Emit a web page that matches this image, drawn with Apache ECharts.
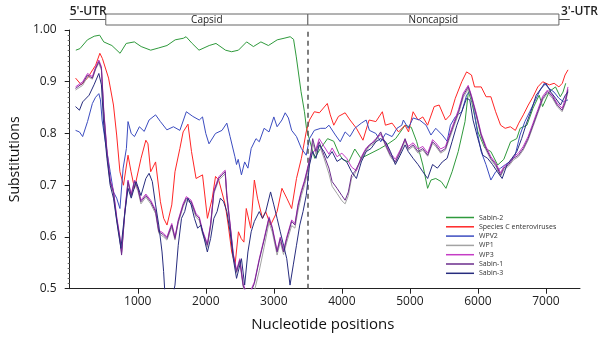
<!DOCTYPE html>
<html><head><meta charset="utf-8">
<script src="https://cdn.jsdelivr.net/npm/echarts@6/dist/echarts.min.js"></script>
<style>html,body{margin:0;padding:0;background:#fff}#c{width:600px;height:341px}</style>
</head><body><div id="c"></div>
<script>
// ---------- data (nucleotide position, substitutions) ----------
const seriesNames = ['Sabin-2','Species C enteroviruses','WPV2','WP1','WP3','Sabin-1','Sabin-3'];
const seriesColors = ['#2f9a3c','#ff2626','#3b4cc0','#a3a3a3','#c53cc5','#6b2c8c','#272c7e'];

const sabin2 = [[90,0.961],[150,0.964],[260,0.981],[360,0.988],[440,0.990],[500,0.977],[620,0.970],[740,0.955],[830,0.974],[950,0.977],[1050,0.968],[1190,0.961],[1300,0.965],[1430,0.970],[1550,0.981],[1670,0.984],[1710,0.987],[1800,0.974],[1900,0.961],[2050,0.970],[2150,0.974],[2290,0.961],[2380,0.958],[2480,0.961],[2600,0.977],[2700,0.968],[2810,0.977],[2920,0.970],[3050,0.981],[3150,0.984],[3240,0.987],[3290,0.982],[3330,0.948],[3400,0.881],[3450,0.842],[3480,0.810],[3520,0.790],[3600,0.752],[3680,0.770],[3790,0.790],[3880,0.785],[3960,0.760],[4020,0.749],[4100,0.745],[4190,0.770],[4280,0.752],[4400,0.760],[4550,0.770],[4680,0.780],[4790,0.790],[4930,0.816],[5020,0.812],[5100,0.784],[5190,0.739],[5260,0.694],[5310,0.710],[5380,0.713],[5460,0.707],[5530,0.694],[5620,0.726],[5710,0.765],[5810,0.823],[5860,0.881],[5910,0.860],[6000,0.803],[6100,0.772],[6190,0.765],[6290,0.739],[6380,0.750],[6480,0.784],[6570,0.790],[6620,0.810],[6720,0.816],[6810,0.849],[6900,0.874],[6950,0.852],[7050,0.881],[7140,0.890],[7210,0.871],[7250,0.880],[7290,0.897]];

const speciesC = [[86,0.907],[170,0.894],[260,0.907],[381,0.932],[443,0.955],[480,0.945],[571,0.907],[643,0.855],[690,0.797],[738,0.726],[790,0.700],[857,0.758],[900,0.727],[952,0.694],[1048,0.752],[1119,0.787],[1150,0.780],[1190,0.726],[1262,0.745],[1333,0.668],[1381,0.636],[1430,0.623],[1500,0.662],[1547,0.726],[1619,0.771],[1667,0.803],[1738,0.818],[1790,0.765],[1857,0.713],[1952,0.720],[2024,0.636],[2095,0.675],[2143,0.717],[2190,0.710],[2286,0.662],[2330,0.623],[2381,0.571],[2430,0.546],[2480,0.610],[2520,0.597],[2560,0.590],[2595,0.655],[2660,0.617],[2714,0.710],[2760,0.675],[2833,0.636],[2880,0.649],[2952,0.623],[3048,0.649],[3119,0.694],[3190,0.675],[3262,0.655],[3333,0.713],[3405,0.752],[3476,0.803],[3524,0.826],[3595,0.842],[3670,0.840],[3786,0.858],[3830,0.836],[3881,0.816],[3950,0.833],[4048,0.840],[4120,0.826],[4214,0.810],[4310,0.787],[4400,0.826],[4500,0.823],[4595,0.842],[4640,0.816],[4738,0.820],[4833,0.803],[4929,0.816],[4980,0.803],[5047,0.842],[5120,0.826],[5190,0.832],[5260,0.816],[5357,0.852],[5430,0.855],[5524,0.826],[5595,0.836],[5667,0.868],[5762,0.900],[5833,0.919],[5905,0.913],[5950,0.890],[6048,0.890],[6120,0.871],[6190,0.871],[6260,0.842],[6333,0.816],[6400,0.810],[6476,0.813],[6550,0.806],[6600,0.820],[6667,0.836],[6740,0.855],[6810,0.871],[6880,0.890],[6952,0.900],[7050,0.894],[7120,0.897],[7190,0.890],[7240,0.897],[7280,0.913],[7324,0.923]];

const wpv2 = [[86,0.806],[143,0.803],[190,0.794],[262,0.823],[333,0.858],[380,0.870],[428,0.877],[452,0.865],[476,0.826],[524,0.784],[595,0.726],[643,0.687],[690,0.675],[738,0.655],[785,0.733],[833,0.771],[857,0.823],[904,0.800],[952,0.794],[1024,0.813],[1095,0.804],[1166,0.826],[1262,0.836],[1333,0.823],[1428,0.807],[1524,0.813],[1619,0.806],[1714,0.842],[1809,0.833],[1904,0.826],[1952,0.832],[2000,0.800],[2047,0.780],[2142,0.800],[2238,0.806],[2309,0.820],[2357,0.794],[2428,0.755],[2452,0.740],[2476,0.750],[2524,0.720],[2571,0.745],[2619,0.733],[2667,0.771],[2738,0.790],[2786,0.784],[2857,0.810],[2929,0.803],[3000,0.832],[3048,0.813],[3119,0.826],[3167,0.840],[3214,0.830],[3262,0.806],[3333,0.794],[3405,0.771],[3476,0.758],[3524,0.790],[3595,0.806],[3690,0.810],[3762,0.810],[3810,0.816],[3905,0.797],[3976,0.784],[4048,0.803],[4119,0.794],[4190,0.810],[4286,0.820],[4357,0.826],[4405,0.806],[4500,0.800],[4571,0.784],[4643,0.800],[4738,0.794],[4810,0.810],[4881,0.816],[4904,0.826],[4976,0.810],[5047,0.830],[5143,0.826],[5238,0.816],[5309,0.797],[5380,0.810],[5476,0.797],[5547,0.785],[5595,0.816],[5666,0.832],[5762,0.842],[5833,0.874],[5880,0.881],[5928,0.855],[5999,0.797],[6047,0.765],[6118,0.740],[6190,0.710],[6261,0.726],[6333,0.733],[6404,0.740],[6475,0.746],[6547,0.758],[6618,0.797],[6690,0.823],[6761,0.842],[6832,0.861],[6904,0.881],[6975,0.897],[7047,0.887],[7118,0.880],[7190,0.868],[7261,0.861],[7323,0.865]];

const wp1 = [[85,0.884],[190,0.893],[262,0.910],[333,0.905],[381,0.924],[428,0.936],[466,0.922],[500,0.838],[547,0.760],[595,0.703],[643,0.684],[690,0.632],[738,0.592],[762,0.568],[809,0.642],[857,0.703],[904,0.677],[952,0.703],[1000,0.690],[1047,0.664],[1119,0.677],[1190,0.664],[1262,0.645],[1309,0.607],[1380,0.600],[1428,0.594],[1500,0.619],[1547,0.594],[1595,0.627],[1666,0.658],[1714,0.672],[1785,0.664],[1857,0.638],[1904,0.632],[1952,0.606],[2023,0.580],[2071,0.619],[2119,0.684],[2190,0.710],[2238,0.716],[2285,0.722],[2309,0.676],[2357,0.620],[2404,0.562],[2452,0.530],[2500,0.552],[2548,0.504],[2619,0.475],[2714,0.495],[2786,0.535],[2857,0.580],[2929,0.628],[2976,0.610],[3048,0.565],[3095,0.590],[3143,0.566],[3190,0.590],[3262,0.622],[3310,0.617],[3357,0.652],[3405,0.680],[3452,0.700],[3500,0.726],[3548,0.758],[3571,0.782],[3619,0.760],[3667,0.778],[3738,0.752],[3810,0.722],[3857,0.698],[3929,0.684],[4000,0.670],[4048,0.664],[4095,0.680],[4143,0.714],[4190,0.722],[4262,0.742],[4334,0.762],[4405,0.775],[4476,0.781],[4571,0.800],[4643,0.775],[4714,0.755],[4786,0.742],[4857,0.762],[4929,0.786],[4976,0.768],[5047,0.775],[5119,0.762],[5190,0.768],[5261,0.756],[5333,0.781],[5380,0.775],[5452,0.762],[5523,0.768],[5571,0.786],[5642,0.812],[5714,0.838],[5785,0.870],[5857,0.886],[5904,0.868],[5976,0.832],[6047,0.794],[6118,0.768],[6190,0.749],[6261,0.737],[6333,0.717],[6380,0.730],[6452,0.737],[6523,0.749],[6595,0.755],[6666,0.768],[6737,0.787],[6809,0.813],[6880,0.839],[6952,0.865],[7023,0.878],[7095,0.868],[7166,0.852],[7237,0.842],[7285,0.858],[7323,0.882]];

const wp3 = [[85,0.890],[190,0.900],[262,0.916],[333,0.910],[381,0.929],[428,0.942],[466,0.929],[500,0.846],[547,0.768],[595,0.710],[643,0.690],[690,0.640],[738,0.600],[762,0.570],[809,0.649],[857,0.710],[904,0.683],[952,0.710],[1000,0.697],[1047,0.671],[1119,0.683],[1190,0.671],[1262,0.652],[1309,0.613],[1380,0.607],[1428,0.600],[1500,0.626],[1547,0.600],[1595,0.633],[1666,0.664],[1714,0.678],[1785,0.671],[1857,0.645],[1904,0.639],[1952,0.613],[2023,0.587],[2071,0.626],[2119,0.690],[2190,0.716],[2238,0.723],[2285,0.729],[2309,0.683],[2357,0.626],[2404,0.568],[2452,0.536],[2500,0.558],[2548,0.510],[2619,0.484],[2714,0.513],[2786,0.558],[2857,0.597],[2929,0.639],[2976,0.620],[3048,0.574],[3095,0.600],[3143,0.574],[3190,0.600],[3262,0.633],[3310,0.626],[3357,0.664],[3405,0.690],[3452,0.710],[3500,0.736],[3548,0.760],[3619,0.770],[3667,0.790],[3738,0.775],[3810,0.760],[3857,0.772],[3929,0.755],[4000,0.762],[4071,0.752],[4143,0.735],[4214,0.728],[4286,0.755],[4357,0.772],[4429,0.780],[4500,0.790],[4571,0.798],[4643,0.782],[4714,0.762],[4786,0.750],[4857,0.768],[4929,0.788],[4976,0.775],[5047,0.782],[5119,0.770],[5190,0.775],[5261,0.762],[5333,0.788],[5380,0.782],[5452,0.770],[5523,0.775],[5571,0.794],[5642,0.820],[5714,0.846],[5785,0.878],[5857,0.893],[5904,0.874],[5976,0.839],[6047,0.800],[6118,0.775],[6190,0.755],[6261,0.743],[6333,0.724],[6380,0.736],[6452,0.743],[6523,0.755],[6595,0.762],[6666,0.775],[6737,0.794],[6809,0.820],[6880,0.846],[6952,0.872],[7023,0.884],[7095,0.874],[7166,0.858],[7237,0.849],[7285,0.866],[7323,0.890]];

const sabin1 = [[85,0.887],[190,0.897],[262,0.913],[333,0.907],[381,0.926],[428,0.939],[466,0.926],[500,0.842],[547,0.765],[595,0.707],[643,0.687],[690,0.636],[738,0.597],[762,0.565],[809,0.646],[857,0.707],[904,0.680],[952,0.707],[1000,0.694],[1047,0.668],[1119,0.680],[1190,0.668],[1262,0.649],[1309,0.610],[1380,0.604],[1428,0.597],[1500,0.623],[1547,0.597],[1595,0.630],[1666,0.661],[1714,0.675],[1785,0.668],[1857,0.642],[1904,0.636],[1952,0.610],[2023,0.584],[2071,0.623],[2119,0.687],[2190,0.713],[2238,0.720],[2285,0.726],[2309,0.680],[2357,0.623],[2404,0.565],[2452,0.533],[2500,0.555],[2548,0.507],[2619,0.480],[2714,0.510],[2786,0.555],[2857,0.594],[2929,0.636],[2976,0.617],[3048,0.571],[3095,0.597],[3143,0.571],[3190,0.597],[3262,0.630],[3310,0.623],[3357,0.661],[3405,0.687],[3452,0.707],[3500,0.733],[3548,0.765],[3571,0.790],[3619,0.765],[3667,0.784],[3738,0.758],[3810,0.733],[3857,0.707],[3929,0.694],[4000,0.680],[4048,0.671],[4095,0.687],[4143,0.720],[4190,0.726],[4262,0.745],[4334,0.765],[4405,0.778],[4476,0.784],[4571,0.803],[4643,0.778],[4714,0.758],[4786,0.745],[4857,0.765],[4929,0.790],[4976,0.771],[5047,0.778],[5119,0.765],[5190,0.771],[5261,0.758],[5333,0.784],[5380,0.778],[5452,0.765],[5523,0.771],[5571,0.790],[5642,0.816],[5714,0.842],[5785,0.874],[5857,0.890],[5904,0.871],[5976,0.836],[6047,0.797],[6118,0.771],[6190,0.752],[6261,0.740],[6333,0.720],[6380,0.733],[6452,0.740],[6523,0.752],[6595,0.758],[6666,0.771],[6737,0.790],[6809,0.816],[6880,0.842],[6952,0.868],[7023,0.881],[7095,0.871],[7166,0.855],[7237,0.845],[7285,0.861],[7323,0.885]];

const sabin3 = [[85,0.852],[143,0.845],[190,0.861],[285,0.874],[357,0.894],[428,0.916],[466,0.894],[500,0.816],[547,0.752],[595,0.700],[643,0.675],[714,0.610],[752,0.578],[809,0.646],[857,0.694],[904,0.675],[976,0.707],[1047,0.680],[1119,0.713],[1166,0.723],[1214,0.707],[1262,0.662],[1309,0.623],[1357,0.571],[1380,0.533],[1404,0.480],[1476,0.460],[1547,0.507],[1595,0.584],[1643,0.636],[1690,0.649],[1738,0.675],[1785,0.662],[1833,0.636],[1880,0.617],[1928,0.623],[1976,0.597],[2023,0.571],[2071,0.597],[2119,0.636],[2166,0.649],[2214,0.675],[2262,0.668],[2309,0.649],[2357,0.610],[2404,0.558],[2452,0.520],[2524,0.558],[2571,0.507],[2619,0.571],[2667,0.610],[2714,0.630],[2786,0.649],[2833,0.636],[2881,0.649],[2952,0.687],[3000,0.662],[3048,0.636],[3095,0.610],[3143,0.584],[3190,0.558],[3238,0.507],[3286,0.546],[3333,0.584],[3381,0.623],[3429,0.649],[3476,0.680],[3524,0.739],[3571,0.765],[3619,0.752],[3667,0.778],[3738,0.765],[3786,0.752],[3857,0.765],[3929,0.746],[4000,0.752],[4071,0.745],[4143,0.726],[4214,0.713],[4286,0.745],[4357,0.765],[4429,0.771],[4500,0.784],[4571,0.790],[4643,0.784],[4714,0.765],[4786,0.740],[4857,0.758],[4929,0.778],[4976,0.765],[5047,0.752],[5119,0.740],[5190,0.726],[5261,0.713],[5333,0.740],[5404,0.733],[5476,0.745],[5547,0.752],[5619,0.784],[5690,0.816],[5762,0.842],[5833,0.868],[5880,0.865],[5928,0.826],[5999,0.790],[6071,0.758],[6142,0.752],[6214,0.740],[6285,0.726],[6356,0.713],[6428,0.740],[6499,0.752],[6571,0.765],[6642,0.790],[6714,0.820],[6785,0.845],[6856,0.874],[6928,0.887],[6999,0.897],[7071,0.880],[7142,0.868],[7214,0.855],[7285,0.874],[7323,0.880]];

const seriesData = [sabin2, speciesC, wpv2, wp1, wp3, sabin1, sabin3];

// genome regions: start, 5'-UTR end, capsid end, noncapsid end, 3'-UTR end
const regionBounds = [0, 530, 3500, 7190, 7350];
const regionLabels = ["5'-UTR", 'Capsid', 'Noncapsid', "3'-UTR"];
const xTickValues = [1000, 2000, 3000, 4000, 5000, 6000, 7000];
const yTickValues = [0.5, 0.6, 0.7, 0.8, 0.9, 1.0];
const yTickLabels = ['0.5', '0.6', '0.7', '0.8', '0.9', '1.00'];

// ---------- chart ----------
const FONT = 'Open Sans';
const chart = echarts.init(document.getElementById('c'), null, {renderer: 'canvas'});

const series = seriesNames.map((name, i) => ({
  name, type: 'line', data: seriesData[i], showSymbol: false, symbol: 'none',
  clip: true, animation: false,
  lineStyle: {width: 1, color: seriesColors[i]}, itemStyle: {color: seriesColors[i]},
  z: 2 + i
}));
series[0].markLine = {
  silent: true, symbol: ['none', 'none'], label: {show: false},
  lineStyle: {color: '#555', type: [5, 4], width: 1.5},
  data: [{xAxis: regionBounds[2]}], animation: false
};

chart.setOption({
  animation: false,
  backgroundColor: '#fff',
  grid: {left: 53, right: 20, top: 30, bottom: 52.3},
  legend: {
    orient: 'vertical', left: 441, top: 208, icon: 'rect',
    itemWidth: 28, itemHeight: 1.5, itemGap: 0.3,
    textStyle: {fontFamily: FONT, fontSize: 7, color: '#333', lineHeight: 9},
    data: seriesNames
  },
  xAxis: {
    type: 'value', min: -60, max: 7500,
    name: 'Nucleotide positions', nameLocation: 'middle', nameGap: 29,
    nameTextStyle: {fontFamily: FONT, fontSize: 15, color: '#111'},
    axisLine: {show: true, onZero: false, lineStyle: {color: '#222', width: 1}},
    axisTick: {show: true, inside: false, length: 5, customValues: xTickValues, lineStyle: {color: '#222'}},
    axisLabel: {customValues: xTickValues, fontFamily: FONT, fontSize: 12, color: '#222', margin: 7,
      formatter: v => String(Math.round(v))},
    splitLine: {show: false}
  },
  yAxis: {
    type: 'value', min: 0.5, max: 1.0, interval: 0.1,
    name: 'Substitutions', nameLocation: 'middle', nameGap: 34,
    nameTextStyle: {fontFamily: FONT, fontSize: 14, color: '#111'},
    axisLine: {show: true, lineStyle: {color: '#222', width: 1}},
    axisTick: {show: true, length: 5, lineStyle: {color: '#222'}},
    minorTick: {show: true, splitNumber: 10, length: 2, lineStyle: {color: '#666'}},
    axisLabel: {
      fontFamily: FONT, fontSize: 12, color: '#222', margin: 9,
      formatter: v => { const k = yTickValues.findIndex(t => Math.abs(t - v) < 1e-9); return k >= 0 ? yTickLabels[k] : ''; }
    },
    splitLine: {show: false}
  },
  series
});

// region bar above the plot
const xp = v => chart.convertToPixel({xAxisIndex: 0}, v);
const b = regionBounds.map(xp);
const boxTop = 14, boxH = 11, midY = boxTop + boxH / 2;
const lineStyleG = {stroke: '#555', lineWidth: 1};
chart.setOption({
  graphic: [
    {type: 'line', shape: {x1: b[0], y1: midY, x2: b[1], y2: midY}, style: lineStyleG},
    {type: 'rect', shape: {x: b[1], y: boxTop, width: b[2] - b[1], height: boxH}, style: {fill: '#fff', stroke: '#666', lineWidth: 1}},
    {type: 'rect', shape: {x: b[2], y: boxTop, width: b[3] - b[2], height: boxH}, style: {fill: '#fff', stroke: '#666', lineWidth: 1}},
    {type: 'line', shape: {x1: b[3], y1: midY, x2: b[4], y2: midY}, style: lineStyleG},
    {type: 'text', x: b[0], y: midY - 1.5, style: {text: regionLabels[0], fontFamily: FONT, fontSize: 12, fontWeight: 600, fill: '#222', align: 'left', verticalAlign: 'bottom'}},
    {type: 'text', x: (b[1] + b[2]) / 2, y: midY + 0.5, style: {text: regionLabels[1], fontFamily: FONT, fontSize: 10, fill: '#222', align: 'center', verticalAlign: 'middle'}},
    {type: 'text', x: (b[2] + b[3]) / 2, y: midY + 0.5, style: {text: regionLabels[2], fontFamily: FONT, fontSize: 10, fill: '#222', align: 'center', verticalAlign: 'middle'}},
    {type: 'text', x: b[3] + 2, y: midY - 1.5, style: {text: regionLabels[3], fontFamily: FONT, fontSize: 12, fontWeight: 600, fill: '#222', align: 'left', verticalAlign: 'bottom'}}
  ]
});
</script>
</body></html>
